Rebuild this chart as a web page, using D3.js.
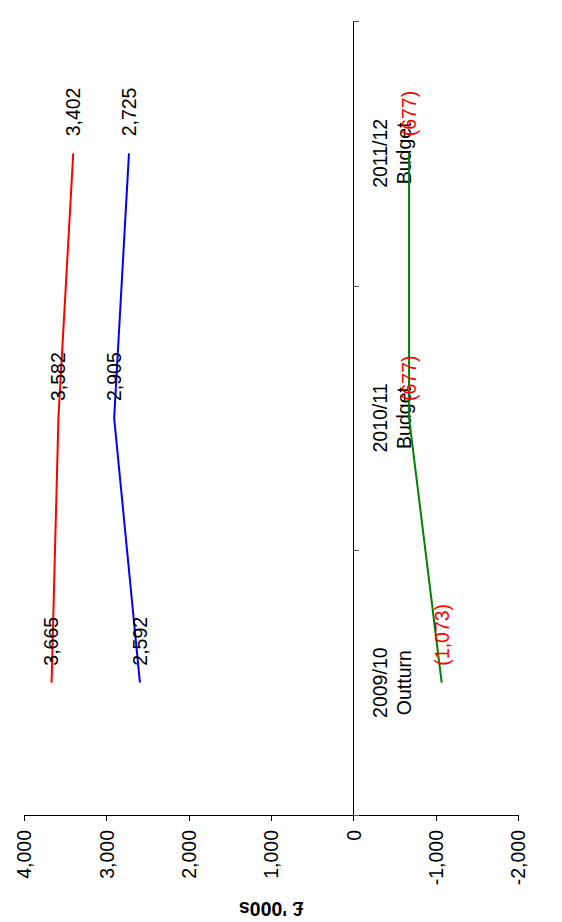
<!DOCTYPE html>
<html>
<head>
<meta charset="utf-8">
<script src="https://cdn.jsdelivr.net/npm/d3@7"></script>
<style>
  html, body { margin: 0; padding: 0; background: #fff; }
  svg { display: block; font-family: "Liberation Sans", Arial, sans-serif; }
</style>
</head>
<body>
<svg id="chart" width="562" height="922"></svg>
<script>
// ---- data ----
const years = ["2009/10", "2010/11", "2011/12"];
const kinds = ["Outturn", "Budget", "Budget"];
const seriesRed = [3665, 3582, 3402];
const seriesBlue = [2592, 2905, 2725];
const seriesGreen = [-1073, -677, -677];
const valueTicks = [-2000, -1000, 0, 1000, 2000, 3000, 4000];
const axisTitle = "£ '000s";

const series = [
  { values: seriesRed, color: "#ff0000" },
  { values: seriesBlue, color: "#0000ff" },
  { values: seriesGreen, color: "#008000" }
];

const svg = d3.select("#chart");
const fontSize = 19.5;

// value scale (horizontal, reversed as in the rotated chart)
const x = d3.scaleLinear().domain([-2000, 4000]).range([518, 24]);
// category index scale (vertical, bottom to top)
const yIdx = d3.scaleLinear().domain([0, years.length]).range([815, 21]);
const yc = i => yIdx(i + 0.5);

// ---- value axis (bottom) ----
const fmtAbs = d3.format(",");
const fmt = d => (d < 0 ? "-" : "") + fmtAbs(Math.abs(d));
const gx = svg.append("g")
  .attr("transform", `translate(0,${yIdx(0)})`)
  .call(d3.axisBottom(x).tickValues(valueTicks).tickSize(6).tickSizeOuter(0).tickFormat(d => fmt(d)));
gx.select(".domain").attr("stroke", "#000").attr("shape-rendering", "crispEdges");
gx.selectAll(".tick line").attr("stroke", "#000").attr("shape-rendering", "crispEdges");
gx.selectAll(".tick text")
  .attr("transform", "rotate(-90)")
  .attr("x", -15).attr("y", 0).attr("dy", "0.35em")
  .attr("text-anchor", "end")
  .attr("font-size", fontSize)
  .attr("font-family", "Liberation Sans, Arial, sans-serif")
  .attr("fill", "#000");

// ---- category axis (vertical at 0) ----
const gy = svg.append("g")
  .attr("transform", `translate(${x(0)},0)`)
  .call(d3.axisRight(yIdx).tickValues(d3.range(years.length + 1)).tickSize(6).tickSizeOuter(0).tickFormat(""));
gy.select(".domain").attr("stroke", "#000").attr("shape-rendering", "crispEdges");
gy.selectAll(".tick line").attr("stroke", "#555").attr("shape-rendering", "crispEdges");

// category labels (two lines)
years.forEach((yr, i) => {
  svg.append("text")
    .attr("transform", `translate(${x(0) + 34},${yc(i)}) rotate(-90)`)
    .attr("text-anchor", "middle")
    .attr("font-size", fontSize)
    .text(yr);
  svg.append("text")
    .attr("transform", `translate(${x(0) + 58},${yc(i)}) rotate(-90)`)
    .attr("text-anchor", "middle")
    .attr("font-size", fontSize)
    .text(kinds[i]);
});

// ---- lines ----
const line = d3.line().x(d => x(d)).y((d, i) => yc(i));
series.forEach(s => {
  svg.append("path")
    .datum(s.values)
    .attr("fill", "none")
    .attr("stroke", s.color)
    .attr("stroke-width", 2)
    .attr("d", line);
});

// ---- data labels ----
const labelFmt = v => v < 0 ? "(" + fmtAbs(-v) + ")" : fmtAbs(v);
series.forEach(s => {
  s.values.forEach((v, i) => {
    svg.append("text")
      .attr("transform", `translate(${x(v)},${yc(i) - 17}) rotate(-90)`)
      .attr("dy", "0.35em")
      .attr("text-anchor", "start")
      .attr("font-size", fontSize)
      .attr("fill", v < 0 ? "#ff0000" : "#000")
      .text(labelFmt(v));
  });
});

// ---- axis title ----
svg.append("text")
  .attr("transform", `translate(${(x.range()[0] + x.range()[1]) / 2},902) rotate(180)`)
  .attr("text-anchor", "middle")
  .attr("font-size", fontSize)
  .attr("font-weight", "bold")
  .text(axisTitle);
</script>
</body>
</html>
